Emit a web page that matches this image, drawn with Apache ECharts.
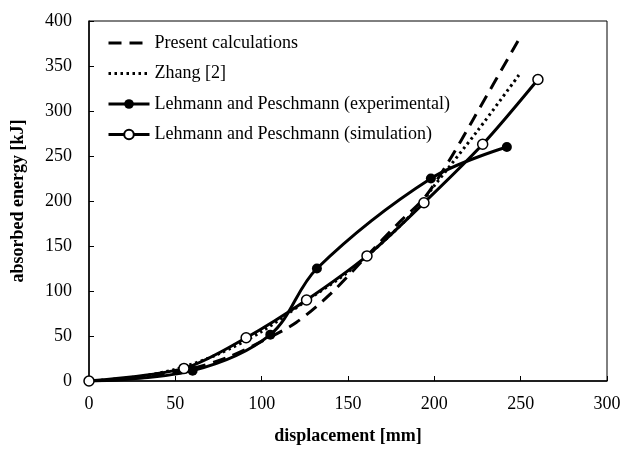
<!DOCTYPE html>
<html>
<head>
<meta charset="utf-8">
<script src="https://cdn.jsdelivr.net/npm/echarts@6/dist/echarts.min.js"></script>
<style>
html,body{margin:0;padding:0;background:#fff;}
#chart{width:624px;height:450px;}
</style>
</head>
<body>
<div id="chart"></div>
<script>
// Series names
var seriesNames = [
  'Present calculations',
  'Zhang [2]',
  'Lehmann and Peschmann (experimental)',
  'Lehmann and Peschmann (simulation)'
];
// Present calculations (dashed)
var presentX = [0, 20, 40, 60, 80, 100, 120, 140, 160, 180, 194, 208, 222, 250];
var presentY = [0, 2, 6, 14, 26, 44, 65, 97, 137, 177, 203, 243, 289, 383];
// Zhang [2] (dotted)
var zhangX = [0, 25, 50, 75, 100, 125, 150, 175, 190, 200, 225, 249];
var zhangY = [0, 4, 13, 30, 55, 88, 121, 163, 192, 217, 278, 340];
// Lehmann and Peschmann (experimental)
var expX = [0, 60, 105, 132, 198, 242];
var expY = [0, 11.5, 51.5, 125, 225, 260];
// Lehmann and Peschmann (simulation)
var simX = [0, 55, 91, 126, 161, 194, 228, 260];
var simY = [0, 14, 48, 90, 139, 198, 263, 335];

function pairs(xs, ys){ return xs.map(function(x,i){ return [x, ys[i]]; }); }

var FONT = 'Liberation Serif';
var chart = echarts.init(document.getElementById('chart'), null, {renderer:'canvas'});
chart.setOption({
  animation: false,
  backgroundColor: '#fff',
  grid: {left: 89, right: 17, top: 21, bottom: 66, show: true, borderColor: '#000', borderWidth: 1, backgroundColor: 'transparent'},
  legend: {
    orient: 'vertical',
    left: 107,
    top: 33,
    padding: 0,
    itemWidth: 41,
    itemHeight: 12,
    itemGap: 10.5,
    textStyle: {fontFamily: FONT, fontSize: 18, color: '#000', lineHeight: 20},
    lineStyle: {width: 3},
    data: [
      {name: seriesNames[0], itemStyle: {opacity: 0}},
      {name: seriesNames[1], itemStyle: {opacity: 0}},
      {name: seriesNames[2]},
      {name: seriesNames[3]}
    ]
  },
  xAxis: {
    type: 'value', min: 0, max: 300, interval: 50,
    name: 'displacement [mm]', nameLocation: 'middle', nameGap: 46,
    nameTextStyle: {fontFamily: FONT, fontSize: 18, fontWeight: 'bold', color: '#000'},
    axisLine: {lineStyle: {color: '#000', width: 1.5}},
    axisTick: {inside: true, length: 5, lineStyle: {color: '#000', width: 1}},
    axisLabel: {fontFamily: FONT, fontSize: 18, color: '#000', margin: 14},
    splitLine: {show: false}
  },
  yAxis: {
    type: 'value', min: 0, max: 400, interval: 50,
    name: 'absorbed energy [kJ]', nameLocation: 'middle', nameGap: 62,
    nameTextStyle: {fontFamily: FONT, fontSize: 18, fontWeight: 'bold', color: '#000'},
    axisLine: {show: true, lineStyle: {color: '#000', width: 1.5}},
    axisTick: {show: true, inside: true, length: 5, lineStyle: {color: '#000', width: 1}},
    axisLabel: {fontFamily: FONT, fontSize: 18, color: '#000', margin: 17},
    splitLine: {show: false}
  },
  series: [
    {
      name: seriesNames[0], type: 'line', data: pairs(presentX, presentY),
      smooth: 0.3, symbol: 'none', z: 2,
      itemStyle: {color: '#000'},
      lineStyle: {color: '#000', width: 3, type: [13, 8]}
    },
    {
      name: seriesNames[1], type: 'line', data: pairs(zhangX, zhangY),
      smooth: 0.3, symbol: 'none', z: 2,
      itemStyle: {color: '#000'},
      lineStyle: {color: '#000', width: 3, type: [2.5, 3.5]}
    },
    {
      name: seriesNames[2], type: 'line', data: pairs(expX, expY),
      smooth: 0.35, symbol: 'circle', symbolSize: 10, z: 3,
      itemStyle: {color: '#000'},
      lineStyle: {color: '#000', width: 3}
    },
    {
      name: seriesNames[3], type: 'line', data: pairs(simX, simY),
      smooth: 0.3, symbol: 'circle', symbolSize: 10, z: 4,
      itemStyle: {color: '#fff', borderColor: '#000', borderWidth: 1.5},
      lineStyle: {color: '#000', width: 3}
    }
  ]
});
</script>
</body>
</html>
